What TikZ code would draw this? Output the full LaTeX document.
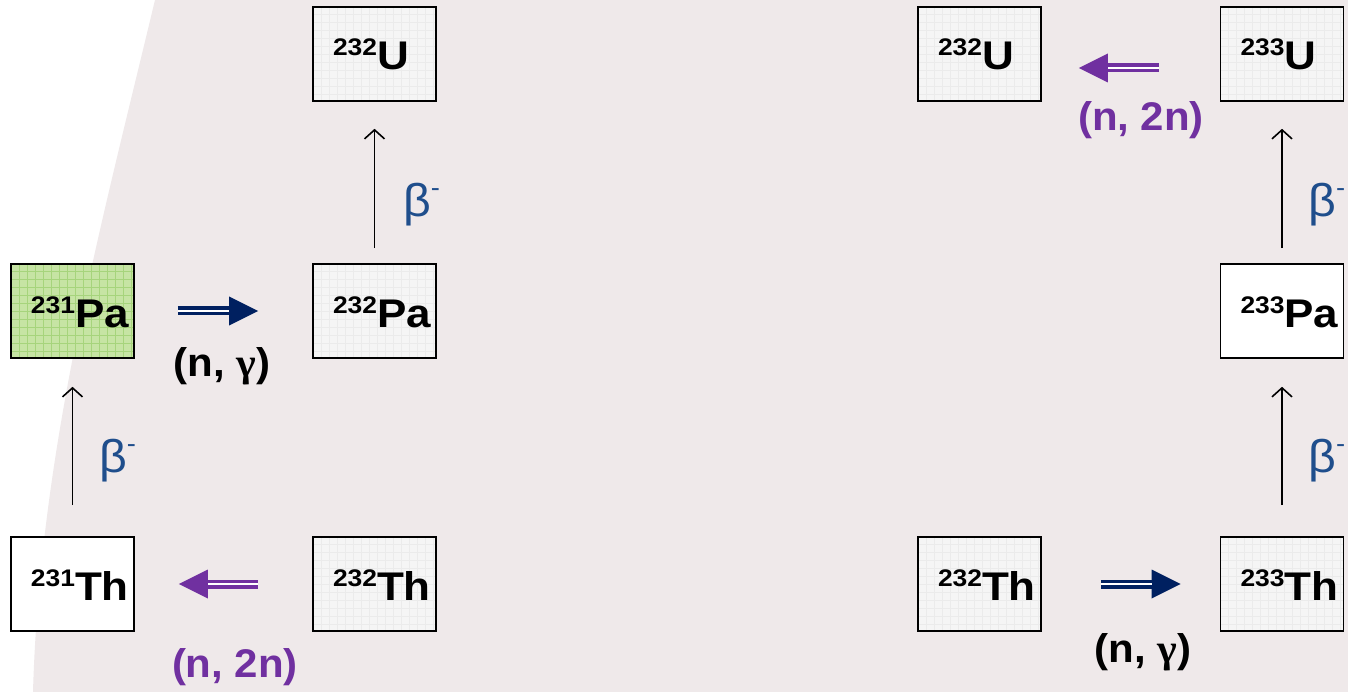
\documentclass[tikz,border=0pt]{standalone}
\usepackage{fontspec}
\setmainfont{Liberation Sans}
\newfontfamily\greekfont{Liberation Serif}
\usetikzlibrary{arrows.meta}

\definecolor{bgpink}{HTML}{EFE9EA}
\definecolor{boxgray}{HTML}{F5F5F5}
\definecolor{gridgray}{HTML}{EBEBEB}
\definecolor{pagreen}{HTML}{C6E4A4}
\definecolor{gridgreen}{HTML}{A6D47C}
\definecolor{navy}{HTML}{002060}
\definecolor{rxpurple}{HTML}{7030A0}
\definecolor{betablue}{HTML}{1F4E8C}

% nuclide text: mass number as a superscript, then the element symbol
\newcommand{\nuclide}[2]{\makebox[123pt][l]{\hspace*{20pt}\scalebox{1.1}[1]{\bfseries
  {\fontsize{24}{24}\selectfont\raisebox{14pt}{#1}}{\fontsize{40}{40}\selectfont #2}}}}
\newcommand{\betaminus}{\scalebox{1.05}[1]{{\fontsize{46}{46}\selectfont β}\raisebox{20pt}{\fontsize{26}{26}\selectfont -}}}
\newcommand{\reaction}[1]{\scalebox{1.05}[1]{\fontsize{40}{40}\selectfont\bfseries #1}}

\tikzset{
  nucbox/.style={draw=black, line width=1.6pt, fill=boxgray,
    minimum width=123pt, minimum height=94pt, inner sep=0pt,
    text height=40pt, text depth=8pt,
    path picture={\draw[gridgray, line width=0.5pt]
      (path picture bounding box.south west) grid[step=8pt]
      (path picture bounding box.north east);}},
  plainbox/.style={nucbox, fill=white, path picture={}},
  greenbox/.style={nucbox, fill=pagreen,
    path picture={\draw[gridgreen, line width=0.6pt]
      (path picture bounding box.south west) grid[step=8pt]
      (path picture bounding box.north east);}},
  decay/.style={black, line width=1.6pt,
    -{Straight Barb[length=9pt, width=20pt, line width=1.6pt]}},
  capture/.style={line width=9pt,
    -{Triangle[length=29pt, width=29pt, line width=0pt]}},
  midline/.style={white, line width=1.6pt},
  betalbl/.style={text=betablue, inner sep=0pt, anchor=west},
  rxlbl/.style={inner sep=0pt},
}

\begin{document}
\begin{tikzpicture}[x=1pt, y=-1pt]
  \useasboundingbox (0,0) rectangle (1348,692);
  % backdrop: white left margin with a curved edge
  \fill[white] (0,0) rectangle (1348,692);
  \fill[bgpink] (155,0) .. controls (100,230) and (40,450) .. (33,692)
    -- (1348,692) -- (1348,0) -- cycle;

  % left chain
  \node[nucbox]   (U232a)  at (374.5,54)  {\nuclide{232}{U}};
  \node[greenbox] (Pa231)  at (72.5,311)  {\nuclide{231}{Pa}};
  \node[nucbox]   (Pa232)  at (374.5,311) {\nuclide{232}{Pa}};
  \node[plainbox] (Th231)  at (72.5,584)  {\nuclide{231}{Th}};
  \node[nucbox]   (Th232a) at (374.5,584) {\nuclide{232}{Th}};

  % right chain
  \node[nucbox]   (U232b)  at (979.5,54)  {\nuclide{232}{U}};
  \node[nucbox]   (U233)   at (1282,54)   {\nuclide{233}{U}};
  \node[plainbox] (Pa233)  at (1282,311)  {\nuclide{233}{Pa}};
  \node[nucbox]   (Th232b) at (979.5,584) {\nuclide{232}{Th}};
  \node[nucbox]   (Th233)  at (1282,584)  {\nuclide{233}{Th}};

  % beta decays
  \draw[decay, shorten <=31pt, shorten >=28pt] (Th231) -- (Pa231);
  \draw[decay, shorten <=15pt, shorten >=27pt] (Pa232) -- (U232a);
  \draw[decay, shorten <=31pt, shorten >=28pt] (Th233) -- (Pa233);
  \draw[decay, shorten <=15pt, shorten >=27pt] (Pa233) -- (U233);
  \node[betalbl] (b1) at (99,461)   {\betaminus};
  \node[betalbl] (b2) at (403,205)  {\betaminus};
  \node[betalbl] (b3) at (1308,461) {\betaminus};
  \node[betalbl] (b4) at (1308,205) {\betaminus};

  % neutron capture
  \draw[capture, navy, shorten <=43pt, shorten >=54pt] (Pa231.east) -- (Pa232.west);
  \draw[midline, shorten <=43pt, shorten >=83pt] (Pa231.east) -- (Pa232.west);
  \draw[capture, navy, shorten <=59pt, shorten >=39pt] (Th232b.east) -- (Th233.west);
  \draw[midline, shorten <=59pt, shorten >=68pt] (Th232b.east) -- (Th233.west);
  \node[rxlbl] (ng1) at (222,366)  {\reaction{(n, {\greekfont γ})}};
  \node[rxlbl] (ng2) at (1143,652) {\reaction{(n, {\greekfont γ})}};

  % (n,2n) reactions
  \draw[capture, rxpurple, shorten <=54pt, shorten >=44pt] (Th232a.west) -- (Th231.east);
  \draw[midline, shorten <=54pt, shorten >=73pt] (Th232a.west) -- (Th231.east);
  \draw[capture, rxpurple, shorten <=61pt, shorten >=37pt]
    ([yshift=-14pt]U233.west) -- ([yshift=-14pt]U232b.east);
  \draw[midline, shorten <=61pt, shorten >=66pt]
    ([yshift=-14pt]U233.west) -- ([yshift=-14pt]U232b.east);
  \node[rxlbl, text=rxpurple] (nn1) at (235,667)  {\reaction{(n, 2n)}};
  \node[rxlbl, text=rxpurple] (nn2) at (1141,120) {\reaction{(n, 2n)}};
\end{tikzpicture}
\end{document}
